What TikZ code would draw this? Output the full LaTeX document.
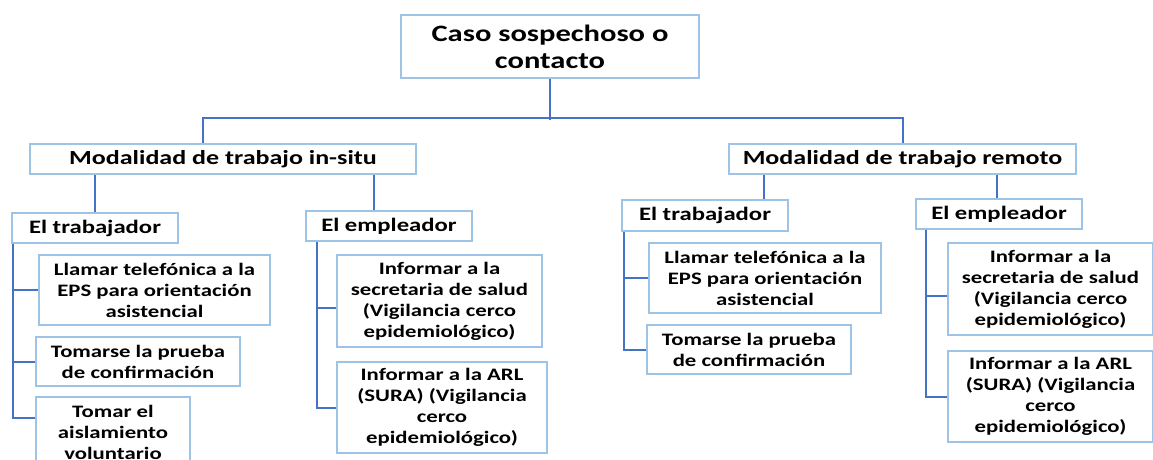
\documentclass[tikz,border=0pt]{standalone}
\usepackage{fontspec}
\setmainfont{Carlito}[FakeStretch=1.3]
\definecolor{boxblue}{HTML}{9DC3E6}
\definecolor{lineblue}{HTML}{4472C4}

\begin{document}
\begin{tikzpicture}[x=1pt,y=-1pt]
    \tikzset{%
      box/.style={draw=boxblue, line width=1.3pt, fill=white, inner sep=0pt,
        align=center, font=\bfseries\fontsize{19}{23}\selectfont},
      head/.style={box, font=\bfseries\fontsize{23.5}{27}\selectfont},
      mode/.style={box, font=\bfseries\fontsize{20}{24}\selectfont},
      leaf/.style={box, font=\bfseries\fontsize{17.5}{21}\selectfont},
      link/.style={draw=lineblue, line width=2pt},
    }
    \useasboundingbox (0,0) rectangle (1153,459);

    \node[head, minimum width=298pt, minimum height=63pt] (C) at (550,46.5) {Caso sospechoso o\\contacto};

    \node[mode, minimum width=386pt, minimum height=30pt] (M1) at (223,159) {Modalidad de trabajo in-situ};
    \node[mode, minimum width=347pt, minimum height=30pt] (M2) at (902.5,159) {Modalidad de trabajo remoto};

    \node[box, minimum width=166pt, minimum height=30pt] (T1) at (95,228) {El trabajador};
    \node[box, minimum width=166pt, minimum height=30pt] (E1) at (389,226) {El empleador};
    \node[box, minimum width=166pt, minimum height=31pt] (T2) at (705,215.5) {El trabajador};
    \node[box, minimum width=166pt, minimum height=30pt] (E2) at (999,214) {El empleador};

    %in-situ, trabajador
    \node[leaf, minimum width=231pt, minimum height=70pt] (T1a) at (154.5,290) {Llamar telefónica a la\\EPS para orientación\\asistencial};
    \node[leaf, minimum width=204pt, minimum height=49pt] (T1b) at (138,361.5) {Tomarse la prueba\\de confirmación};
    \node[leaf, minimum width=154pt, minimum height=70pt] (T1c) at (113,432) {Tomar el\\aislamiento\\voluntario};
    %in-situ, empleador
    \node[leaf, minimum width=205pt, minimum height=92pt] (E1a) at (439.5,301) {Informar a la\\secretaria de salud\\(Vigilancia cerco\\epidemiológico)};
    \node[leaf, minimum width=210pt, minimum height=91pt] (E1b) at (442,407.5) {Informar a la ARL\\(SURA) (Vigilancia\\cerco\\epidemiológico)};
    %remoto, trabajador
    \node[leaf, minimum width=232pt, minimum height=70pt] (T2a) at (765,278) {Llamar telefónica a la\\EPS para orientación\\asistencial};
    \node[leaf, minimum width=204pt, minimum height=49pt] (T2b) at (749,349.5) {Tomarse la prueba\\de confirmación};
    %remoto, empleador
    \node[leaf, minimum width=205pt, minimum height=92pt] (E2a) at (1050.5,289) {Informar a la\\secretaria de salud\\(Vigilancia cerco\\epidemiológico)};
    \node[leaf, minimum width=205pt, minimum height=91pt] (E2b) at (1050.5,396.5) {Informar a la ARL\\(SURA) (Vigilancia\\cerco\\epidemiológico)};

    \draw[link] (C.south) -- ++(0,41);
    \draw[link] ([xshift=-20pt]M1.north) -- ++(0,-25) -| (M2.north);

    \draw[link] (T1.north) -- (T1.north |- M1.south);
    \draw[link] ([xshift=-15pt]E1.north) -- ([xshift=-15pt]E1.north |- M1.south);
    \draw[link] ([xshift=59pt]T2.north) -- ([xshift=59pt]T2.north |- M2.south);
    \draw[link] ([xshift=-2pt]E2.north) -- ([xshift=-2pt]E2.north |- M2.south);

    \draw[link] ([xshift=2pt]T1.south west) |- (T1a.west);
    \draw[link] ([xshift=2pt]T1.south west) |- (T1b.west);
    \draw[link] ([xshift=2pt]T1.south west) |- ([yshift=14pt]T1c.west);

    \draw[link] ([xshift=12pt]E1.south west) |- ([yshift=-7pt]E1a.west);
    \draw[link] ([xshift=12pt]E1.south west) |- (E1b.west);

    \draw[link] ([xshift=3pt]T2.south west) |- (T2a.west);
    \draw[link] ([xshift=3pt]T2.south west) |- (T2b.west);

    \draw[link] ([xshift=11pt]E2.south west) |- ([yshift=-7pt]E2a.west);
    \draw[link] ([xshift=11pt]E2.south west) |- (E2b.west);
  \end{tikzpicture}
\end{document}
